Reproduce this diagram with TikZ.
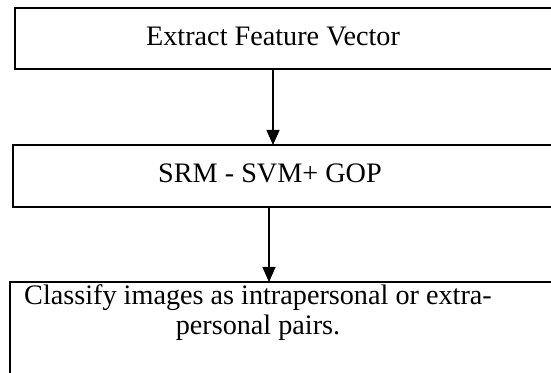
\documentclass[tikz,border=0pt]{standalone}
\usepackage{fontspec}
\setmainfont{Liberation Serif}
\usetikzlibrary{arrows.meta}
\tikzstyle{stage} = [draw, rectangle, line width=1pt, anchor=north west, inner sep=0pt, outer sep=0pt]
\tikzstyle{stagetext} = [anchor=base, inner sep=0pt, align=center, font=\fontsize{14.1}{15}\selectfont]
\tikzstyle{flow} = [line width=0.75pt, -{Triangle[length=7.5pt, width=6.5pt]}]

\begin{document}
\begin{tikzpicture}[x=0.5pt, y=-0.5pt]
	\useasboundingbox (0,0) rectangle (551,373);
	\clip (0,0) rectangle (551,373);
	
	\node[stage, minimum width=280pt, minimum height=30.5pt] (extract) at (15,8) {};
	\node[stage, minimum width=280pt, minimum height=31pt] (srm) at (13,145) {};
	\node[stage, minimum width=280pt, minimum height=60pt] (classify) at (10,282) {};
	
	\node[stagetext] (extracttxt) at (273,46) {Extract Feature Vector};
	\node[stagetext] (srmtxt) at (270,183) {SRM - SVM+ GOP};
	\node[stagetext] (classifytxt) at (258,335) {Classify images as intrapersonal or extra-\\personal pairs.};
	
	\draw[flow] (extracttxt |- extract.south) -- (extracttxt |- srm.north);
	\draw[flow] ([xshift=-0.5pt] srmtxt |- srm.south) -- ([xshift=-0.5pt] srmtxt |- classify.north);
\end{tikzpicture}
\end{document}
